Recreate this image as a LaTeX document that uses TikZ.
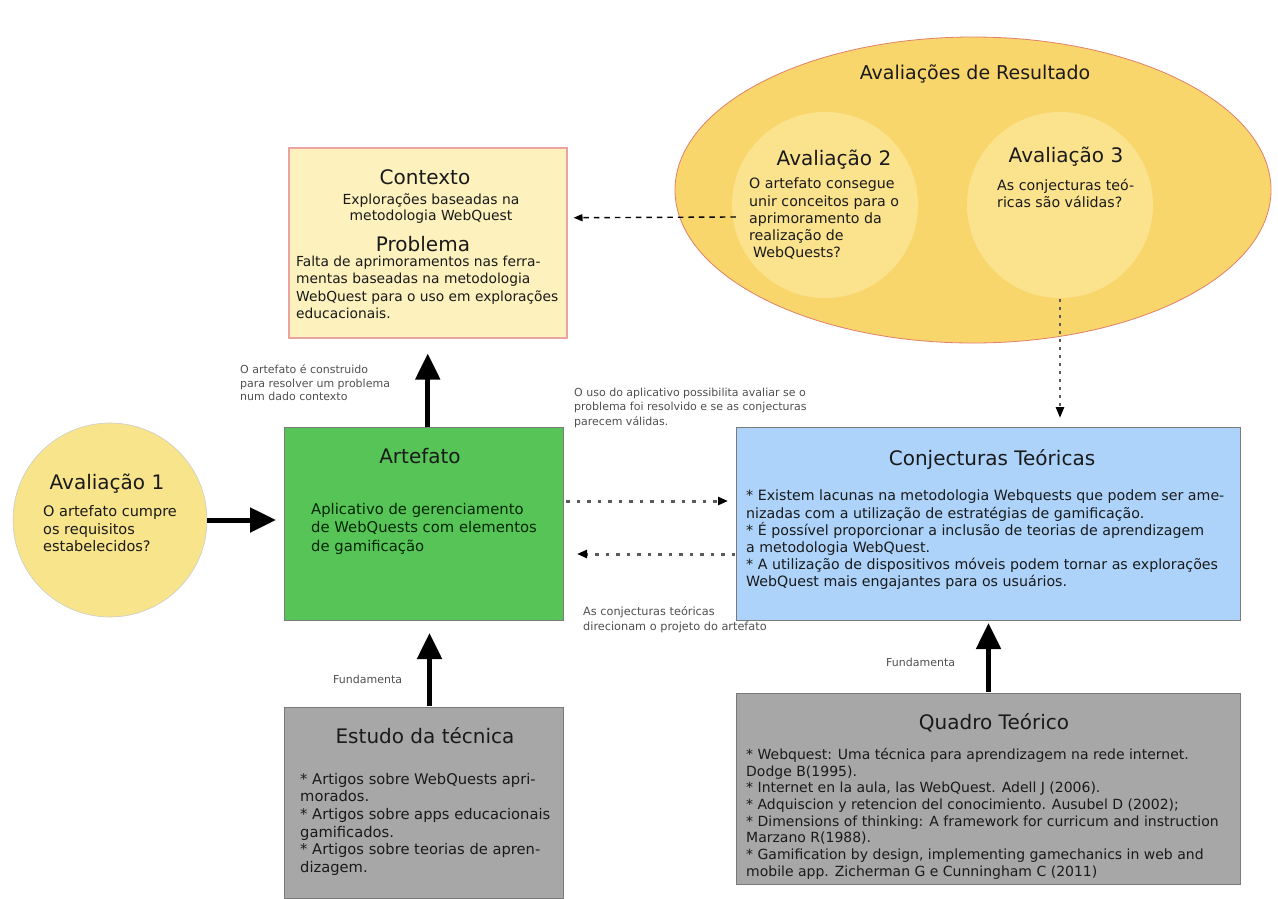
\documentclass[tikz,border=0pt]{standalone}
\usepackage{fontspec}
\setmainfont{DejaVu Sans}
\usetikzlibrary{arrows.meta,shapes.geometric}
\definecolor{ctxfill}{HTML}{FDF1BE}
\definecolor{ctxdraw}{HTML}{EBA3A0}
\definecolor{ellfill}{HTML}{F9D66C}
\definecolor{ellinner}{HTML}{FBE38D}
\definecolor{ellline}{HTML}{E0806A}
\definecolor{avfill}{HTML}{F8E48A}
\definecolor{artfill}{HTML}{57C457}
\definecolor{conjfill}{HTML}{ADD3FA}
\definecolor{grayfill}{HTML}{A7A7A7}
\definecolor{boxline}{HTML}{7A7A7A}
\definecolor{labelgray}{HTML}{505050}
\definecolor{dotgray}{HTML}{5A5A5A}
\definecolor{txt}{HTML}{1A1A1A}
\begin{document}
\begin{tikzpicture}[x=1pt,y=-1pt,
  box/.style={draw=boxline, line width=1pt, rectangle, inner sep=0pt, anchor=north west},
  ttl/.style={font=\fontsize{20}{24}\selectfont, inner sep=0pt, text=txt, anchor=base},
  bodytxt/.style={font=\fontsize{14.2}{17.2}\selectfont, align=left, inner sep=0pt, text=txt, anchor=north west},
  smalltxt/.style={font=\fontsize{11}{14.5}\selectfont, align=left, inner sep=0pt, text=labelgray, anchor=north west},
  bigarrow/.style={line width=5pt, -{Triangle[length=26pt,width=24pt]}},
  dotarrow/.style={draw=dotgray, line width=3pt, dash pattern=on 3.5pt off 7pt, -{Triangle[length=10pt,width=8pt,color=black]}},
  thinarrow/.style={line width=1.4pt, dash pattern=on 5.5pt off 5pt, -{Triangle[length=9pt,width=7pt]}},
]
\useasboundingbox (0,0) rectangle (1278,898);
\fill[white] (0,0) rectangle (1278,898);

% --- Resultado ellipse
\node[ellipse, draw=ellline, line width=0.8pt, fill=ellfill, minimum width=596pt, minimum height=306pt, inner sep=0pt] (res) at (973,190) {};
\node[ttl, font=\fontsize{19}{23}\selectfont] (resT) at (975,79) {Avaliações de Resultado};
\node[circle, fill=ellinner, minimum size=186pt, inner sep=0pt] (av2) at (825,205) {};
\node[circle, fill=ellinner, minimum size=186pt, inner sep=0pt] (av3) at (1060,205) {};
\node[ttl] (av2T) at (834,165.3) {Avaliação 2};
\node[bodytxt] (av2B) at (749,178) {O artefato consegue\\unir conceitos para o\\aprimoramento da\\realização de\\\hspace*{4pt}WebQuests?};
\node[ttl] (av3T) at (1066,162) {Avaliação 3};
\node[bodytxt] (av3B) at (997,179) {As conjecturas teó-\\ricas são válidas?};

% --- Contexto
\node[box, draw=ctxdraw, line width=1.5pt, fill=ctxfill, minimum width=278pt, minimum height=190pt] (ctx) at (288,147) {};
\node[ttl] (ctxT) at (425,184.3) {Contexto};
\node[bodytxt, font=\fontsize{13.9}{16.5}\selectfont, align=center, anchor=north] (ctxB) at (431,193) {Explorações baseadas na\\metodologia WebQuest};
\node[ttl] (probT) at (423,251.3) {Problema};
\node[bodytxt, font=\fontsize{13.8}{17.3}\selectfont] (probB) at (296,256) {Falta de aprimoramentos nas ferra-\\mentas baseadas na metodologia\\WebQuest para o uso em explorações\\educacionais.};

% --- Avaliacao 1
\node[circle, draw=black!20, line width=0.6pt, fill=avfill, minimum size=194pt, inner sep=0pt] (av1) at (110,520) {};
\node[ttl] (av1T) at (107,489) {Avaliação 1};
\node[bodytxt, font=\fontsize{14.5}{17.8}\selectfont] (av1B) at (43,505) {O artefato cumpre\\os requisitos\\estabelecidos?};

% --- Artefato
\node[box, fill=artfill, minimum width=279pt, minimum height=193pt] (art) at (284,427) {};
\node[ttl] (artT) at (420,463.5) {Artefato};
\node[bodytxt, font=\fontsize{14.8}{18.3}\selectfont, text=black!85!green] (artB) at (311,503) {Aplicativo de gerenciamento\\de WebQuests com elementos\\de gamificação};

% --- Conjecturas
\node[box, fill=conjfill, minimum width=504pt, minimum height=193pt] (conj) at (736,427) {};
\node[ttl] (conjT) at (992,465.5) {Conjecturas Teóricas};
\node[bodytxt] (conjB) at (746,490) {* Existem lacunas na metodologia Webquests que podem ser ame-\\nizadas com a utilização de estratégias de gamificação.\\* É possível proporcionar a inclusão de teorias de aprendizagem\\a metodologia WebQuest.\\* A utilização de dispositivos móveis podem tornar as explorações\\WebQuest mais engajantes para os usuários.};

% --- Estudo da tecnica
\node[box, fill=grayfill, minimum width=279pt, minimum height=191pt] (est) at (284,707) {};
\node[ttl] (estT) at (425,743.5) {Estudo da técnica};
\node[bodytxt, font=\fontsize{14.7}{17.6}\selectfont] (estB) at (300,773) {* Artigos sobre WebQuests apri-\\morados.\\* Artigos sobre apps educacionais\\gamificados.\\* Artigos sobre teorias de apren-\\dizagem.};

% --- Quadro teorico
\node[box, fill=grayfill, minimum width=504pt, minimum height=191pt] (qt) at (736,693) {};
\node[ttl] (qtT) at (994,729) {Quadro Teórico};
\node[bodytxt, font=\fontsize{14}{16.7}\selectfont] (qtB) at (746,748) {* Webquest: Uma técnica para aprendizagem na rede internet.\\Dodge B(1995).\\* Internet en la aula, las WebQuest. Adell J (2006).\\* Adquiscion y retencion del conocimiento. Ausubel D (2002);\\* Dimensions of thinking: A framework for curricum and instruction\\Marzano R(1988).\\* Gamification by design, implementing gamechanics in web and\\mobile app. Zicherman G e Cunningham C (2011)};

% --- small labels
\node[smalltxt, font=\fontsize{11}{13.5}\selectfont] (lab1) at (240,364.5) {O artefato é construido\\para resolver um problema\\num dado contexto};
\node[smalltxt] (lab2) at (574,387.5) {O uso do aplicativo possibilita avaliar se o\\problema foi resolvido e se as conjecturas\\parecem válidas.};
\node[smalltxt, font=\fontsize{11.3}{15}\selectfont] (lab3) at (583,606.5) {As conjecturas teóricas\\direcionam o projeto do artefato};
\node[smalltxt] (lab4) at (333,674.5) {Fundamenta};
\node[smalltxt] (lab5) at (886,657.5) {Fundamenta};

% --- arrows
\draw[bigarrow, shorten >=15pt] (art.north -| ctx.south) -- (ctx.south);
\draw[bigarrow, shorten >=8pt] (av1.east) -- (av1.east -| art.west);
\draw[bigarrow, shorten >=12pt, shorten <=1pt] ([xshift=5.5pt]est.north) -- ([xshift=5.5pt]art.south);
\draw[bigarrow, shorten >=2pt, shorten <=1pt] (qt.north) -- (conj.south);

\draw[dotarrow, shorten >=8pt, shorten <=2pt] ([yshift=23pt]art.east) -- ([yshift=23pt]conj.west);
\draw[dotarrow, shorten >=13pt, shorten <=1pt] ([yshift=-30pt]conj.west) -- ([yshift=-30pt]art.east);
\draw[thinarrow, shorten >=6pt, shorten <=-4pt] ([yshift=-12pt]av2.west) -- ([yshift=25pt]ctx.east);
\draw[draw=dotgray, line width=2.5pt, dash pattern=on 3pt off 5pt, -{Triangle[length=11pt,width=8pt,color=black]}, shorten >=9pt, shorten <=1pt] (av3.south) -- (av3.south |- conj.north);
\end{tikzpicture}
\end{document}
